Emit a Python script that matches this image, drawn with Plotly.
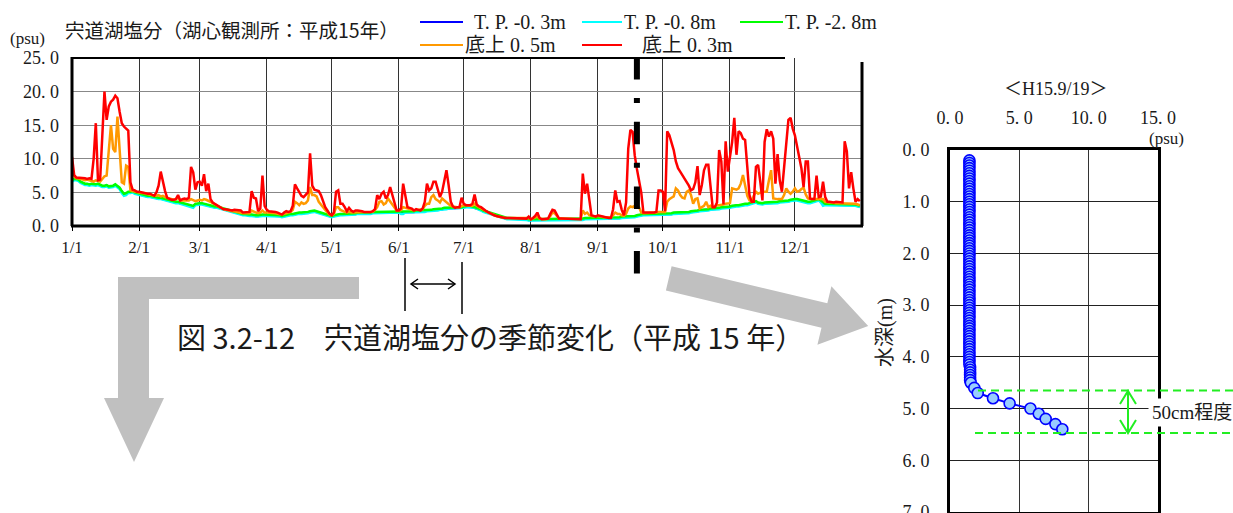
import pandas as pd
import plotly.graph_objects as go

W, H = 1233, 513

# ---------------- data ----------------
dates = pd.date_range("2003-01-01", "2003-12-31", freq="D")

# T.P.-0.3m (daily, psu)
tp03 = [
    6.7, 6.9, 6.9, 6.8, 6.5, 6.3, 6.2, 6.2, 6.1, 6.2, 6.1, 6.1, 6.2, 6.0, 5.9, 5.9, 6.0, 5.8, 5.8, 5.9, 6.1, 5.9, 5.6, 5.1, 4.7, 4.8, 5.0, 5.0, 5.1, 4.9, 4.8,
    4.8, 4.7, 4.6, 4.5, 4.4, 4.4, 4.3, 4.2, 4.2, 4.1, 4.1, 4.0, 3.9, 3.8, 3.8, 3.7, 3.6, 3.5, 3.5, 3.4, 3.3, 3.3, 3.2, 3.1, 2.9, 2.9, 3.2, 3.3,
    3.3, 3.3, 3.2, 3.2, 3.1, 3.0, 2.9, 2.8, 2.8, 2.7, 2.6, 2.5, 2.4, 2.3, 2.2, 2.1, 2.0, 1.9, 1.8, 1.8, 1.7, 1.7, 1.6, 1.6, 1.6, 1.5, 1.5, 1.5, 1.6, 1.6, 1.6,
    1.6, 1.6, 1.6, 1.5, 1.5, 1.5, 1.5, 1.4, 1.5, 1.6, 1.6, 1.7, 1.7, 1.8, 1.8, 1.9, 1.9, 1.9, 1.9, 2.0, 2.1, 2.2, 2.2, 2.1, 2.0, 1.9, 1.8, 1.7, 1.5, 1.4,
    1.4, 1.5, 1.6, 1.7, 1.7, 1.7, 1.7, 1.7, 1.8, 1.8, 1.8, 1.8, 1.9, 1.9, 1.9, 1.8, 1.9, 1.9, 1.9, 2.0, 2.0, 2.0, 2.0, 2.0, 2.0, 2.0, 2.1, 2.1, 2.1, 2.1, 2.1,
    2.1, 2.0, 2.0, 2.1, 2.1, 2.1, 2.1, 2.1, 2.2, 2.2, 2.2, 2.2, 2.2, 2.3, 2.3, 2.3, 2.4, 2.4, 2.4, 2.5, 2.5, 2.6, 2.6, 2.7, 2.7, 2.7, 2.7, 2.7, 2.7, 2.7,
    2.8, 2.9, 2.9, 2.9, 2.8, 2.8, 2.7, 2.6, 2.4, 2.2, 2.1, 2.0, 1.9, 1.8, 1.6, 1.5, 1.4, 1.3, 1.2, 1.2, 1.1, 1.1, 1.1, 1.0, 1.0, 1.0, 1.0, 1.0, 1.0, 1.0, 0.9,
    0.9, 0.9, 0.9, 1.0, 0.9, 0.9, 0.9, 0.9, 0.9, 1.0, 1.0, 1.0, 0.9, 0.9, 0.9, 0.9, 0.9, 0.9, 0.9, 0.9, 0.9, 0.9, 0.9, 0.9, 1.0, 1.1, 1.1, 1.1, 1.2, 1.2, 1.2,
    1.2, 1.2, 1.2, 1.2, 1.2, 1.2, 1.2, 1.2, 1.2, 1.2, 1.2, 1.3, 1.3, 1.3, 1.3, 1.4, 1.4, 1.4, 1.5, 1.6, 1.7, 1.7, 1.7, 1.7, 1.7, 1.7, 1.7, 1.7, 1.7, 1.7,
    1.7, 1.7, 1.8, 1.8, 1.8, 1.9, 1.9, 1.9, 1.9, 1.9, 2.0, 2.0, 2.0, 2.1, 2.1, 2.2, 2.2, 2.3, 2.3, 2.4, 2.4, 2.4, 2.5, 2.5, 2.6, 2.6, 2.6, 2.7, 2.7, 2.8, 2.8,
    2.8, 2.9, 3.0, 3.0, 3.0, 3.1, 3.1, 3.2, 3.2, 3.3, 3.4, 3.5, 3.6, 3.4, 3.3, 3.3, 3.4, 3.4, 3.4, 3.5, 3.5, 3.5, 3.5, 3.6, 3.6, 3.6, 3.7, 3.7, 3.8, 3.9,
    3.9, 3.9, 3.8, 3.7, 3.6, 3.5, 3.5, 3.5, 3.6, 3.7, 3.8, 3.9, 3.7, 3.4, 3.2, 3.2, 3.2, 3.2, 3.2, 3.2, 3.2, 3.2, 3.2, 3.2, 3.2, 3.2, 3.2, 3.1, 3.1, 3.0, 2.9,
]

# T.P.-0.8m (daily, psu)
tp08 = [
    6.6, 6.8, 6.8, 6.7, 6.4, 6.2, 6.1, 6.1, 6.0, 6.1, 6.0, 6.0, 6.1, 5.9, 5.8, 5.8, 5.9, 5.7, 5.7, 5.8, 6.0, 5.8, 5.5, 4.9, 4.5, 4.6, 4.9, 4.9, 5.0, 4.8, 4.7,
    4.7, 4.6, 4.5, 4.4, 4.3, 4.3, 4.2, 4.1, 4.1, 4.0, 4.0, 3.9, 3.8, 3.7, 3.7, 3.6, 3.5, 3.4, 3.4, 3.3, 3.2, 3.2, 3.1, 3.0, 2.8, 2.7, 3.1, 3.2,
    3.2, 3.2, 3.1, 3.1, 3.0, 2.9, 2.8, 2.7, 2.7, 2.6, 2.5, 2.4, 2.3, 2.2, 2.1, 2.0, 1.9, 1.8, 1.7, 1.7, 1.6, 1.6, 1.5, 1.5, 1.5, 1.4, 1.4, 1.4, 1.5, 1.5, 1.5,
    1.5, 1.5, 1.5, 1.4, 1.4, 1.4, 1.4, 1.3, 1.4, 1.5, 1.5, 1.6, 1.6, 1.7, 1.7, 1.8, 1.8, 1.8, 1.8, 1.9, 2.0, 2.1, 2.1, 2.0, 1.9, 1.8, 1.7, 1.6, 1.4, 1.3,
    1.3, 1.4, 1.5, 1.6, 1.6, 1.6, 1.6, 1.6, 1.7, 1.7, 1.7, 1.7, 1.8, 1.8, 1.8, 1.7, 1.8, 1.8, 1.8, 1.9, 1.9, 1.9, 1.9, 1.9, 1.9, 1.9, 2.0, 2.0, 2.0, 2.0, 2.0,
    2.0, 1.8, 1.8, 2.0, 2.0, 2.0, 2.0, 2.0, 2.1, 2.1, 2.1, 2.1, 2.1, 2.2, 2.2, 2.2, 2.3, 2.3, 2.3, 2.4, 2.4, 2.5, 2.5, 2.6, 2.6, 2.6, 2.6, 2.6, 2.6, 2.6,
    2.7, 2.8, 2.8, 2.8, 2.7, 2.7, 2.6, 2.5, 2.3, 2.1, 2.0, 1.9, 1.8, 1.7, 1.5, 1.4, 1.3, 1.2, 1.1, 1.1, 1.0, 1.0, 1.0, 0.9, 0.9, 0.9, 0.9, 0.9, 0.9, 0.9, 0.8,
    0.8, 0.8, 0.8, 0.9, 0.8, 0.8, 0.8, 0.8, 0.8, 0.9, 0.9, 0.9, 0.8, 0.8, 0.8, 0.8, 0.8, 0.8, 0.8, 0.8, 0.8, 0.8, 0.8, 0.8, 0.9, 1.0, 1.0, 1.0, 1.1, 1.1, 1.1,
    1.1, 1.1, 1.1, 1.1, 1.1, 1.1, 1.1, 1.1, 1.1, 1.1, 1.1, 1.2, 1.2, 1.2, 1.2, 1.3, 1.3, 1.3, 1.4, 1.5, 1.6, 1.6, 1.6, 1.6, 1.6, 1.6, 1.6, 1.6, 1.6, 1.6,
    1.6, 1.6, 1.7, 1.7, 1.7, 1.8, 1.8, 1.8, 1.8, 1.8, 1.9, 1.9, 1.9, 2.0, 2.0, 2.1, 2.1, 2.2, 2.2, 2.3, 2.3, 2.3, 2.4, 2.4, 2.5, 2.5, 2.5, 2.6, 2.6, 2.7, 2.7,
    2.7, 2.8, 2.9, 2.9, 2.9, 3.0, 3.0, 3.1, 3.1, 3.2, 3.3, 3.4, 3.5, 3.3, 3.2, 3.2, 3.3, 3.3, 3.3, 3.4, 3.4, 3.4, 3.4, 3.5, 3.5, 3.5, 3.6, 3.6, 3.7, 3.8,
    3.8, 3.8, 3.7, 3.6, 3.5, 3.4, 3.4, 3.4, 3.5, 3.6, 3.7, 3.8, 3.5, 3.0, 3.1, 3.1, 3.1, 3.1, 3.1, 3.1, 3.1, 3.1, 3.1, 3.1, 3.1, 3.1, 3.1, 3.0, 3.0, 2.9, 2.8,
]

# T.P.-2.8m (daily, psu)
tp28 = [
    6.8, 7.0, 7.0, 6.9, 6.6, 6.4, 6.3, 6.3, 6.2, 6.3, 6.2, 6.2, 6.3, 6.1, 6.0, 6.0, 6.1, 5.9, 5.9, 6.0, 6.2, 6.0, 5.7, 5.2, 4.8, 4.9, 5.1, 5.1, 5.2, 5.0, 4.9,
    4.9, 4.8, 4.7, 4.6, 4.5, 4.5, 4.4, 4.3, 4.3, 4.2, 4.2, 4.1, 4.0, 3.9, 3.9, 3.8, 3.7, 3.6, 3.6, 3.5, 3.4, 3.4, 3.3, 3.2, 3.0, 3.0, 3.3, 3.4,
    3.4, 3.4, 3.3, 3.3, 3.2, 3.1, 3.0, 2.9, 2.9, 2.8, 2.7, 2.6, 2.5, 2.4, 2.3, 2.2, 2.1, 2.0, 1.9, 1.9, 1.8, 1.8, 1.7, 1.7, 1.7, 1.6, 1.6, 1.6, 1.7, 1.7, 1.7,
    1.7, 1.7, 1.7, 1.6, 1.6, 1.6, 1.6, 1.5, 1.6, 1.7, 1.7, 1.8, 1.8, 1.9, 1.9, 2.0, 2.0, 2.0, 2.0, 2.1, 2.2, 2.3, 2.3, 2.2, 2.1, 2.0, 1.9, 1.8, 1.6, 1.5,
    1.5, 1.6, 1.7, 1.8, 1.8, 1.8, 1.8, 1.8, 1.9, 1.9, 1.9, 1.9, 2.0, 2.0, 2.0, 1.9, 2.0, 2.0, 2.0, 2.1, 2.1, 2.1, 2.1, 2.1, 2.1, 2.1, 2.2, 2.2, 2.2, 2.2, 2.2,
    2.2, 2.1, 2.1, 2.2, 2.2, 2.2, 2.2, 2.2, 2.3, 2.3, 2.3, 2.3, 2.3, 2.4, 2.4, 2.4, 2.5, 2.5, 2.5, 2.6, 2.6, 2.7, 2.7, 2.8, 2.8, 2.8, 2.8, 2.8, 2.8, 2.8,
    2.9, 3.0, 3.0, 3.0, 2.9, 2.9, 2.8, 2.7, 2.5, 2.3, 2.2, 2.1, 2.0, 1.9, 1.7, 1.6, 1.5, 1.4, 1.3, 1.3, 1.2, 1.2, 1.2, 1.1, 1.1, 1.1, 1.1, 1.1, 1.1, 1.1, 1.0,
    1.0, 1.0, 1.0, 1.1, 1.0, 1.0, 1.0, 1.0, 1.0, 1.1, 1.1, 1.1, 1.0, 1.0, 1.0, 1.0, 1.0, 1.0, 1.0, 1.0, 1.0, 1.0, 1.0, 1.0, 1.1, 1.2, 1.2, 1.2, 1.3, 1.3, 1.3,
    1.3, 1.3, 1.3, 1.3, 1.3, 1.3, 1.3, 1.3, 1.3, 1.3, 1.3, 1.4, 1.4, 1.4, 1.4, 1.5, 1.5, 1.5, 1.6, 1.7, 1.8, 1.8, 1.8, 1.8, 1.8, 1.8, 1.8, 1.8, 1.8, 1.8,
    1.8, 1.8, 1.9, 1.9, 1.9, 2.0, 2.0, 2.0, 2.0, 2.0, 2.1, 2.1, 2.1, 2.2, 2.2, 2.3, 2.3, 2.4, 2.4, 2.5, 2.5, 2.5, 2.6, 2.6, 2.7, 2.7, 2.7, 2.8, 2.8, 2.9, 2.9,
    2.9, 3.0, 3.1, 3.1, 3.1, 3.2, 3.2, 3.3, 3.3, 3.4, 3.5, 3.6, 3.7, 3.5, 3.4, 3.4, 3.5, 3.5, 3.5, 3.6, 3.6, 3.6, 3.6, 3.7, 3.7, 3.7, 3.8, 3.8, 3.9, 4.0,
    4.0, 4.0, 3.9, 3.8, 3.7, 3.6, 3.6, 3.6, 3.7, 3.8, 3.9, 4.0, 3.8, 3.5, 3.3, 3.3, 3.3, 3.3, 3.3, 3.3, 3.3, 3.3, 3.3, 3.3, 3.3, 3.3, 3.3, 3.2, 3.2, 3.1, 3.0,
]

# 底上0.5m (daily, psu)
bot05 = [
    7.6, 7.3, 7.1, 7.1, 7.0, 6.9, 6.8, 6.9, 6.8, 6.7, 6.6, 6.8, 6.7, 6.6, 7.0, 7.4, 7.5, 11.0, 15.0, 11.5, 11.0, 16.3, 11.5, 6.5, 6.3, 9.0, 8.8, 5.3, 5.2, 5.1, 5.0,
    5.0, 4.9, 4.9, 4.8, 4.7, 4.7, 4.6, 4.5, 4.5, 4.6, 4.4, 4.5, 4.3, 4.2, 4.0, 3.9, 3.9, 4.0, 4.2, 3.8, 3.8, 3.9, 3.9, 3.8, 4.0, 3.8, 3.7, 3.8,
    3.9, 3.8, 4.0, 3.9, 3.8, 3.6, 3.4, 3.2, 3.0, 2.8, 2.6, 2.5, 2.4, 2.3, 2.3, 2.2, 2.2, 2.1, 2.1, 2.0, 1.9, 1.9, 1.9, 1.9, 2.3, 2.1, 2.0, 1.9, 2.0, 2.3, 2.0,
    2.0, 2.0, 1.9, 1.9, 1.9, 1.8, 1.7, 1.7, 1.8, 1.9, 2.0, 2.1, 2.4, 3.6, 3.4, 3.1, 3.5, 3.3, 3.4, 3.8, 5.8, 4.6, 4.6, 4.4, 3.6, 3.1, 2.8, 2.4, 2.0, 1.7,
    1.6, 1.8, 2.8, 2.8, 2.4, 2.2, 2.1, 2.0, 2.1, 2.0, 2.0, 2.1, 2.1, 2.1, 2.1, 2.0, 2.0, 2.0, 2.1, 2.1, 2.4, 2.8, 3.6, 3.7, 3.2, 3.4, 4.1, 3.6, 3.3, 2.6, 2.3,
    2.3, 2.4, 2.8, 2.7, 2.5, 2.4, 2.4, 2.3, 2.4, 2.4, 2.4, 2.5, 3.0, 3.3, 3.3, 4.3, 4.6, 4.0, 3.8, 3.5, 4.1, 3.8, 3.6, 3.3, 3.0, 2.9, 2.8, 2.8, 2.8, 3.0,
    3.1, 3.1, 3.0, 3.0, 3.0, 3.3, 3.0, 2.8, 2.6, 2.4, 2.2, 2.0, 1.9, 1.8, 1.6, 1.5, 1.4, 1.3, 1.3, 1.2, 1.2, 1.2, 1.1, 1.1, 1.1, 1.1, 1.1, 1.1, 1.1, 1.1, 1.2,
    1.0, 1.1, 1.2, 1.4, 1.1, 1.0, 1.0, 1.0, 1.1, 1.5, 2.0, 1.9, 1.5, 1.1, 1.1, 1.1, 1.0, 1.0, 1.0, 1.0, 1.0, 1.0, 1.0, 1.0, 2.3, 1.8, 2.0, 1.6, 1.5, 1.4, 1.4,
    1.5, 1.4, 1.4, 1.3, 1.3, 1.3, 1.3, 1.6, 2.0, 1.8, 1.8, 1.6, 1.5, 1.8, 2.6, 2.9, 2.8, 3.0, 3.1, 2.8, 2.0, 1.9, 1.9, 1.9, 1.9, 1.9, 1.9, 2.0, 2.1, 2.1,
    2.1, 2.1, 3.6, 4.0, 4.2, 4.4, 5.6, 5.3, 4.6, 4.2, 4.1, 5.1, 5.3, 4.6, 3.3, 4.0, 4.1, 2.6, 2.8, 3.0, 3.6, 2.8, 3.0, 2.8, 2.9, 3.1, 3.1, 3.1, 3.2, 3.3, 3.3,
    3.4, 5.6, 5.5, 5.4, 5.6, 6.3, 7.6, 5.8, 4.5, 3.8, 3.6, 4.5, 5.1, 4.8, 5.0, 5.1, 5.1, 5.1, 6.8, 8.3, 4.1, 4.0, 4.0, 4.0, 4.0, 4.6, 5.6, 5.1, 4.8, 5.1,
    5.6, 5.1, 5.2, 5.5, 5.7, 4.7, 4.1, 4.0, 4.0, 4.0, 4.0, 4.0, 4.0, 4.0, 3.6, 3.5, 3.5, 3.5, 3.4, 3.4, 3.4, 3.4, 3.4, 3.3, 3.3, 3.3, 3.3, 3.3, 3.3, 3.2, 3.1,
]

# 底上0.3m (daily, psu)
bot03 = [
    10.3, 7.6, 7.2, 7.2, 7.1, 7.2, 7.1, 7.0, 7.1, 7.0, 10.0, 15.3, 6.8, 6.9, 13.0, 20.0, 15.8, 17.8, 18.5, 18.8, 19.4, 19.0, 17.0, 15.3, 14.8, 14.5, 14.2, 6.5, 5.4, 5.3, 5.1,
    5.1, 5.0, 5.0, 4.9, 4.8, 4.8, 4.6, 4.5, 5.0, 6.0, 8.1, 6.5, 5.2, 4.2, 4.0, 3.9, 3.9, 4.0, 4.6, 3.8, 4.0, 4.1, 4.0, 4.2, 8.8, 8.0, 5.4, 6.5,
    6.6, 6.0, 7.7, 5.2, 6.3, 4.0, 3.5, 3.3, 3.0, 2.8, 2.6, 2.5, 2.5, 2.4, 2.4, 2.3, 2.4, 2.4, 2.3, 2.3, 2.0, 2.0, 2.1, 2.1, 5.2, 4.2, 4.1, 2.2, 2.6, 7.5, 3.0,
    2.4, 2.2, 2.2, 2.1, 2.1, 2.0, 1.8, 1.7, 2.0, 2.2, 2.1, 2.2, 3.0, 6.2, 5.6, 5.0, 4.5, 4.3, 4.6, 5.0, 10.8, 6.0, 5.4, 5.3, 5.2, 4.6, 3.6, 2.8, 2.3, 1.8,
    1.6, 2.0, 5.1, 5.3, 3.3, 3.3, 2.8, 2.2, 2.7, 2.3, 2.1, 2.3, 2.3, 2.3, 2.2, 2.1, 2.1, 2.0, 2.1, 2.2, 2.5, 4.6, 4.0, 4.8, 5.1, 4.1, 4.6, 5.8, 4.6, 3.3, 2.3,
    2.3, 2.6, 6.3, 4.6, 2.8, 2.7, 2.6, 2.3, 2.5, 2.4, 2.3, 2.6, 3.6, 6.3, 5.3, 5.6, 6.6, 6.6, 5.6, 4.3, 5.1, 6.5, 8.3, 6.1, 3.6, 2.9, 2.7, 2.8, 2.8, 4.2,
    3.3, 3.1, 3.1, 3.1, 3.3, 4.7, 3.2, 2.9, 2.8, 2.5, 2.3, 2.1, 1.9, 1.8, 1.6, 1.5, 1.4, 1.3, 1.3, 1.2, 1.2, 1.2, 1.1, 1.1, 1.1, 1.1, 1.1, 1.1, 1.1, 1.1, 1.4,
    1.0, 1.2, 1.5, 2.0, 1.2, 1.0, 1.0, 1.1, 1.1, 1.8, 2.4, 2.3, 1.8, 1.1, 1.1, 1.1, 1.1, 1.1, 1.0, 1.0, 1.0, 1.0, 1.0, 1.0, 7.8, 4.8, 6.3, 3.6, 1.6, 1.5, 1.4,
    1.6, 1.5, 1.4, 1.3, 1.3, 1.2, 1.2, 2.5, 5.3, 3.6, 3.7, 2.4, 1.6, 3.5, 11.5, 14.3, 14.0, 10.5, 8.5, 6.8, 5.0, 2.0, 2.0, 2.0, 2.0, 1.9, 2.0, 2.1, 5.3, 5.3,
    5.1, 2.2, 14.1, 13.5, 12.3, 11.3, 9.6, 8.6, 8.1, 7.6, 7.2, 6.6, 6.0, 5.3, 5.5, 6.5, 8.9, 4.6, 6.1, 8.3, 9.1, 9.1, 5.8, 2.8, 2.8, 3.5, 11.3, 9.6, 3.2, 12.6, 8.1,
    10.6, 12.5, 16.1, 10.6, 14.1, 13.8, 13.0, 12.8, 8.8, 4.6, 3.6, 3.6, 8.8, 9.1, 6.6, 3.8, 12.5, 14.4, 13.3, 14.1, 13.0, 6.3, 10.7, 6.8, 5.1, 8.3, 12.0, 15.8, 16.1, 14.5,
    13.5, 12.0, 10.6, 8.6, 5.8, 9.6, 9.6, 4.1, 4.0, 4.0, 7.5, 4.3, 4.4, 6.6, 4.3, 3.6, 3.6, 3.5, 3.5, 3.6, 3.6, 3.5, 3.5, 12.6, 11.1, 5.6, 8.0, 5.6, 3.6, 4.0, 3.7,
]

series_names = ["T. P. -0. 3m", "T. P. -0. 8m", "T. P. -2. 8m", "底上 0. 5m", "底上 0. 3m"]
series_colors = ["#0000ff", "#00ffff", "#00ff00", "#ff9900", "#ff0000"]

month_starts = pd.date_range("2003-01-01", "2003-12-01", freq="MS")
month_labels = ["1/1", "2/1", "3/1", "4/1", "5/1", "6/1", "7/1", "8/1", "9/1", "10/1", "11/1", "12/1"]
sal_ticks = [0, 5, 10, 15, 20, 25]
sal_labels = ["0. 0", "5. 0", "10. 0", "15. 0", "20. 0", "25. 0"]

profile_date = "2003-09-19"
# vertical salinity profile, 2003-09-19 (depth m, psu)
profile_depth = [
    0.20, 0.25, 0.30, 0.35, 0.40, 0.45, 0.50, 0.55, 0.60, 0.65, 0.70, 0.75, 0.80, 0.85, 0.90, 0.95,
    1.00, 1.05, 1.10, 1.15, 1.20, 1.25, 1.30, 1.35, 1.40, 1.45, 1.50, 1.55, 1.60, 1.65, 1.70, 1.75,
    1.80, 1.85, 1.90, 1.95, 2.00, 2.05, 2.10, 2.15, 2.20, 2.25, 2.30, 2.35, 2.40, 2.45, 2.50, 2.55,
    2.60, 2.65, 2.70, 2.75, 2.80, 2.85, 2.90, 2.95, 3.00, 3.05, 3.10, 3.15, 3.20, 3.25, 3.30, 3.35,
    3.40, 3.45, 3.50, 3.55, 3.60, 3.65, 3.70, 3.75, 3.80, 3.85, 3.90, 3.95, 4.00, 4.05, 4.10, 4.15,
    4.20, 4.25, 4.30, 4.35, 4.40, 4.45, 4.50,
    4.60, 4.70, 4.80, 4.90, 5.00, 5.10, 5.20, 5.30, 5.40,
]
profile_sal = [
    1.4, 1.4, 1.4, 1.4, 1.4, 1.4, 1.4, 1.4, 1.4, 1.4, 1.4, 1.4, 1.4, 1.4, 1.4, 1.4,
    1.4, 1.4, 1.4, 1.4, 1.4, 1.4, 1.4, 1.4, 1.4, 1.4, 1.4, 1.4, 1.4, 1.4, 1.4, 1.4,
    1.4, 1.4, 1.4, 1.4, 1.4, 1.4, 1.4, 1.4, 1.4, 1.4, 1.4, 1.4, 1.4, 1.4, 1.4, 1.4,
    1.4, 1.4, 1.4, 1.4, 1.4, 1.4, 1.4, 1.4, 1.4, 1.4, 1.4, 1.4, 1.4, 1.4, 1.4, 1.4,
    1.4, 1.4, 1.4, 1.4, 1.4, 1.4, 1.4, 1.4, 1.4, 1.4, 1.4, 1.4, 1.4, 1.4, 1.4, 1.4,
    1.45, 1.45, 1.45, 1.45, 1.45, 1.45, 1.5,
    1.75, 2.0, 3.1, 4.3, 5.8, 6.4, 6.9, 7.6, 8.1,
]
prof_x_ticks = [0, 5, 10, 15]
prof_x_labels = ["0. 0", "5. 0", "10. 0", "15. 0"]
prof_y_ticks = [0, 1, 2, 3, 4, 5, 6, 7]
prof_y_labels = ["0. 0", "1. 0", "2. 0", "3. 0", "4. 0", "5. 0", "6. 0", "7. 0"]
layer_top, layer_bottom = 4.65, 5.47

# ---------------- helpers (page pixels -> paper) ----------------
def px(x):
    return x / W


def py(y):
    return 1 - y / H


def poly(points):
    pts = [f"{px(x):.5f},{py(y):.5f}" for x, y in points]
    return "M " + " L ".join(pts) + " Z"


def polyline(points):
    pts = [f"{px(x):.5f},{py(y):.5f}" for x, y in points]
    return "M " + " L ".join(pts)


SERIF = "Liberation Serif, Noto Sans CJK JP"
JP = "Noto Sans CJK JP"
TXT = "#1a1a1a"

fig = go.Figure()

for name, vals, color in zip(series_names, [tp03, tp08, tp28, bot05, bot03], series_colors):
    fig.add_trace(go.Scatter(x=dates, y=vals, mode="lines", name=name,
                             line=dict(color=color, width=2.5), xaxis="x", yaxis="y",
                             showlegend=False, hoverinfo="skip"))

fig.add_trace(go.Scatter(x=profile_sal, y=profile_depth, mode="lines+markers",
                         line=dict(color="#0000ff", width=2),
                         marker=dict(size=11, color="#99ccff", line=dict(color="#0000ff", width=1.6)),
                         xaxis="x2", yaxis="y2", showlegend=False, hoverinfo="skip"))

L, R, T, B = 72, 862, 58, 226
PL, PR, PT, PB = 950, 1158, 150, 512

fig.update_layout(
    width=W, height=H, margin=dict(l=0, r=0, t=0, b=0, pad=0),
    paper_bgcolor="white", plot_bgcolor="white",
    xaxis=dict(domain=[px(L), px(R)], anchor="y", type="date", automargin=False,
               range=["2003-01-01", "2004-01-01"],
               tickvals=month_starts, ticktext=month_labels,
               showgrid=True, gridcolor="#333333", gridwidth=1,
               ticks="outside", ticklen=4, tickcolor="#000", tickwidth=1,
               tickfont=dict(family=SERIF, size=17, color=TXT),
               showline=False, zeroline=False, ticklabelstandoff=2),
    yaxis=dict(domain=[py(B), py(T)], anchor="x", range=[0, 25], automargin=False,
               tickvals=sal_ticks, ticktext=sal_labels,
               showgrid=True, gridcolor="#888888", gridwidth=1,
               ticks="", tickfont=dict(family=SERIF, size=18, color=TXT),
               showline=False, zeroline=False, ticklabelstandoff=12),
    xaxis2=dict(domain=[px(PL), px(PR)], anchor="y2", side="top", range=[0, 15], automargin=False,
                tickvals=prof_x_ticks, ticktext=prof_x_labels,
                showgrid=True, gridcolor="#333333", gridwidth=1, ticks="",
                tickfont=dict(family=SERIF, size=18, color=TXT),
                showline=True, linecolor="#000", linewidth=3, mirror=True,
                zeroline=False, ticklabelstandoff=16),
    yaxis2=dict(domain=[py(PB), py(PT)], anchor="x2", range=[7, 0], automargin=False,
                tickvals=prof_y_ticks, ticktext=prof_y_labels, ticklabeloverflow="allow",
                showgrid=True, gridcolor="#222222", gridwidth=1, ticks="",
                tickfont=dict(family=SERIF, size=18, color=TXT),
                showline=True, linecolor="#000", linewidth=3, mirror=True,
                zeroline=False, ticklabelstandoff=14),
)

shapes = []
# frame of the time-series panel
shapes.append(dict(type="line", xref="paper", yref="paper", x0=px(L), x1=px(L), y0=py(B), y1=py(T - 1),
                   line=dict(color="#000", width=3), layer="above"))
shapes.append(dict(type="line", xref="paper", yref="paper", x0=px(L - 1), x1=px(R + 1), y0=py(B), y1=py(B),
                   line=dict(color="#000", width=3), layer="above"))
shapes.append(dict(type="line", xref="paper", yref="paper", x0=px(R), x1=px(R), y0=py(B), y1=py(T + 4),
                   line=dict(color="#000", width=3), layer="above"))
shapes.append(dict(type="line", xref="paper", yref="paper", x0=px(L), x1=px(785), y0=py(T), y1=py(T),
                   line=dict(color="#000", width=2), layer="above"))

# date marker of the profile
shapes.append(dict(type="line", xref="x", yref="paper", x0=profile_date, x1=profile_date,
                   y0=py(57), y1=py(275), line=dict(color="#000", width=6, dash="22.5px,18.5px,5px,18.7px"),
                   layer="above"))

# grey arrows
ARROW_GREY = "#c0c0c0"
shapes.append(dict(type="path", xref="paper", yref="paper", fillcolor=ARROW_GREY, line=dict(width=0),
                   path=poly([(359, 277), (118, 277), (118, 398), (104, 398), (134, 462), (164, 398),
                              (149, 398), (149, 299), (359, 299)])))
shapes.append(dict(type="path", xref="paper", yref="paper", fillcolor=ARROW_GREY, line=dict(width=0),
                   path=poly([(671.6, 266.2), (827.3, 303.3), (831.4, 286.3), (868.2, 325.9),
                              (817.4, 344.7), (821.5, 327.7), (665.9, 290.5)])))

# June bracket with double arrow
shapes.append(dict(type="line", xref="paper", yref="paper", x0=px(405), x1=px(405), y0=py(258), y1=py(311),
                   line=dict(color="#000", width=1.5)))
shapes.append(dict(type="line", xref="paper", yref="paper", x0=px(462), x1=px(462), y0=py(262), y1=py(314),
                   line=dict(color="#000", width=1.5)))
shapes.append(dict(type="path", xref="paper", yref="paper", line=dict(color="#000", width=1.5),
                   path=polyline([(411, 284), (455, 284)])))
shapes.append(dict(type="path", xref="paper", yref="paper", line=dict(color="#000", width=1.5),
                   path=polyline([(418, 279), (411, 284), (418, 289)])))
shapes.append(dict(type="path", xref="paper", yref="paper", line=dict(color="#000", width=1.5),
                   path=polyline([(448, 279), (455, 284), (448, 289)])))

# halocline band on the profile
GREEN = "#22ee22"
shapes.append(dict(type="line", xref="paper", yref="y2", x0=px(978), x1=px(1233), y0=layer_top, y1=layer_top,
                   line=dict(color=GREEN, width=2, dash="8px,5px"), layer="above"))
shapes.append(dict(type="line", xref="paper", yref="y2", x0=px(975), x1=px(1233), y0=layer_bottom, y1=layer_bottom,
                   line=dict(color=GREEN, width=2, dash="8px,5px"), layer="above"))
shapes.append(dict(type="line", xref="paper", yref="y2", x0=px(1128), x1=px(1128), y0=layer_top, y1=layer_bottom,
                   line=dict(color=GREEN, width=2), layer="above"))
shapes.append(dict(type="path", xref="paper", yref="paper", line=dict(color=GREEN, width=2), layer="above",
                   path=polyline([(1120, 404), (1128, 391), (1136, 404)])))
shapes.append(dict(type="path", xref="paper", yref="paper", line=dict(color=GREEN, width=2), layer="above",
                   path=polyline([(1120, 420), (1128, 433), (1136, 420)])))

# legend swatches
legend_pos = [(420, 463, 22), (582, 622, 22), (740, 783, 22), (420, 463, 45), (582, 622, 45)]
for (x0, x1, yy), color in zip(legend_pos, series_colors):
    shapes.append(dict(type="line", xref="paper", yref="paper", x0=px(x0), x1=px(x1), y0=py(yy), y1=py(yy),
                       line=dict(color=color, width=2)))

fig.update_layout(shapes=shapes)

ann = []


def text(t, x, y, size, family=SERIF, xanchor="left", yanchor="middle", **kw):
    ann.append(dict(text=t, x=px(x), y=py(y), xref="paper", yref="paper", xanchor=xanchor, yanchor=yanchor,
                    showarrow=False, font=dict(family=family, size=size, color=TXT), **kw))


text("宍道湖塩分（湖心観測所：平成15年）", 63, 29, 19.5, family=JP)
text("(psu)", 8, 39, 17)
legend_text_x = [472, 622, 783, 463, 640]
for name, (x0, x1, yy), tx in zip(series_names, legend_pos, legend_text_x):
    text(name, tx, yy, 20)
text("図 3.2-12　宍道湖塩分の季節変化（平成 15 年）", 491, 336, 29, family=JP, xanchor="center")
text("＜H15.9/19＞", 1056, 89, 18, xanchor="center")
text("(psu)", 1147, 139, 17)
text("水深(m)", 885, 333, 20, family=SERIF, xanchor="center", textangle=-90)
text("50cm程度", 1148, 412, 19, bgcolor="white", borderpad=3)

fig.update_layout(annotations=ann)

fig.write_html("out.html")
